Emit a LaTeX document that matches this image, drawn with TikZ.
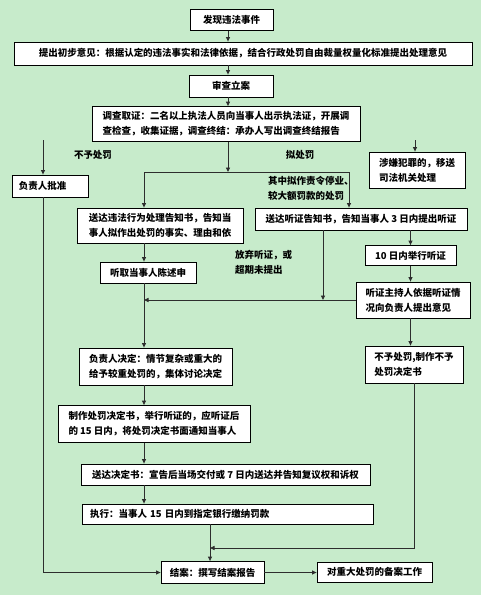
\documentclass[tikz,border=0pt]{standalone}
\usepackage{fontspec}
\setmainfont{Noto Sans CJK SC}
\usetikzlibrary{arrows.meta}
\definecolor{bg}{RGB}{199,235,203}
\definecolor{ink}{RGB}{45,45,45}
\tikzset{>={Triangle[length=4.5pt,width=4pt]},every node/.style={font=\fontsize{9.5}{15}\selectfont\bfseries},
box/.style={draw,line width=.8pt,fill=white,inner sep=0pt,align=left},
flow/.style={->,line width=.9pt,draw=ink},edge/.style={line width=.9pt,draw=ink},
note/.style={align=left,inner sep=0pt}}

\begin{document}
\begin{tikzpicture}[x=1pt,y=-1pt]
\fill[bg] (0,0) rectangle (481,595);
\useasboundingbox (0,0) rectangle (481,595);
% boxes, top to bottom
\node[box,minimum width=83,minimum height=21] (fx) at (231.5,20) {发现违法事件};
\node[box,minimum width=458,minimum height=23] (ty) at (243,53.5) {提出初步意见：根据认定的违法事实和法律依据，结合行政处罚自由裁量权量化标准提出处理意见};
\node[box,minimum width=84,minimum height=22] (sc) at (231,86) {审查立案};
\node[box,minimum width=268,minimum height=35] (dc) at (226,124) {调查取证：二名以上执法人员向当事人出示执法证，开展调\\查检查，收集证据，调查终结：承办人写出调查终结报告};
\node[box,minimum width=96,minimum height=36] (sx) at (417,170) {涉嫌犯罪的，移送\\司法机关处理};
\node[box,minimum width=76,minimum height=22,text width=62] (pz) at (50,186) {负责人批准};
\node[box,minimum width=166,minimum height=35] (wf) at (160,225.5) {送达违法行为处理告知书，告知当\\事人拟作出处罚的事实、理由和依};
\node[box,minimum width=212,minimum height=22] (tz) at (361,219) {送达听证告知书，告知当事人 3 日内提出听证};
\node[box,minimum width=91,minimum height=20] (jx) at (410.5,255.5) {10 日内举行听证};
\node[box,minimum width=96,minimum height=21] (sb) at (148,272.5) {听取当事人陈述申};
\node[box,minimum width=114,minimum height=36] (zc) at (413,300) {听证主持人依据听证情\\况向负责人提出意见};
\node[box,minimum width=153,minimum height=37] (jd) at (155.5,366.5) {负责人决定：情节复杂或重大的\\给予较重处罚的，集体讨论决定};
\node[box,minimum width=98,minimum height=37] (bcf) at (414,364.5) {不予处罚,制作不予\\处罚决定书};
\node[box,minimum width=192,minimum height=37] (cf) at (154,424) {制作处罚决定书，举行听证的，应听证后\\的 15 日内，将处罚决定书面通知当事人};
\node[box,minimum width=289,minimum height=21] (sd) at (225.5,474.5) {送达决定书：宣告后当场交付或 7 日内送达并告知复议权和诉权};
\node[box,minimum width=291,minimum height=20,text width=275] (zx) at (227.5,514) {执行：当事人 15 日内到指定银行缴纳罚款};
\node[box,minimum width=103,minimum height=22] (ja) at (212.5,572.5) {结案：撰写结案报告};
\node[box,minimum width=115,minimum height=20] (ba) at (374.5,572) {对重大处罚的备案工作};
% branch labels
\node[note] (nbuyu) at (93,155) {不予处罚};
\node[note] (nni) at (300,155) {拟处罚};
\node[note,anchor=north west] (nting) at (268,176) {其中拟作责令停业、\\较大额罚款的处罚};
\node[note,anchor=north west] (nfq) at (235,250) {放弃听证，或\\超期未提出};
% columns and turning points
\coordinate (axis) at (228,0);
\coordinate (split) at (0,172);
\coordinate (lcol) at (144,0);
\coordinate (rcol) at (349,0);
\coordinate (lft) at (43,140);
\coordinate (rgt) at (415,140);
\coordinate (giveup) at (323,0);
\coordinate (merge) at (210,548);
% connectors
\draw[flow] (axis |- fx.south)--(axis |- ty.north);
\draw[flow] (axis |- ty.south)--(axis |- sc.north);
\draw[flow] (axis |- sc.south)--(axis |- dc.north);
\draw[flow] (axis |- dc.south)--(axis |- split);
\draw[edge] (lcol |- split)--(rcol |- split);
\draw[flow] (lcol |- split)--(lcol |- wf.north);
\draw[flow] (rcol |- split)--(rcol |- tz.north);
\draw[flow] (lft)--(lft |- pz.north);
\draw[flow] (rgt)--(rgt |- sx.north);
\draw[flow] (lft |- pz.south)--(lft |- ja.west)--(ja.west);
\draw[flow] (lcol |- wf.south)--(lcol |- sb.north);
\draw[flow] (lcol |- sb.south)--(lcol |- jd.north);
\draw[flow] (zc.west)--(lcol |- zc.west);
\draw[flow] (jx |- tz.south)--(jx.north);
\draw[flow] (jx.south)--(jx |- zc.north);
\draw[flow] (giveup |- tz.south)--(giveup |- zc.west);
\draw[flow] (jx |- zc.south)--(jx |- bcf.north);
\draw[flow] (bcf.south)--(bcf.south |- merge)--(merge);
\draw[flow] (lcol |- jd.south)--(lcol |- cf.north);
\draw[flow] (lcol |- cf.south)--(lcol |- sd.north);
\draw[flow] (lcol |- sd.south)--(lcol |- zx.north);
\draw[flow] (merge |- zx.south)--(merge |- ja.north);
\draw[flow] (ja.east)--(ja.east -| ba.west);
\end{tikzpicture}
\end{document}
